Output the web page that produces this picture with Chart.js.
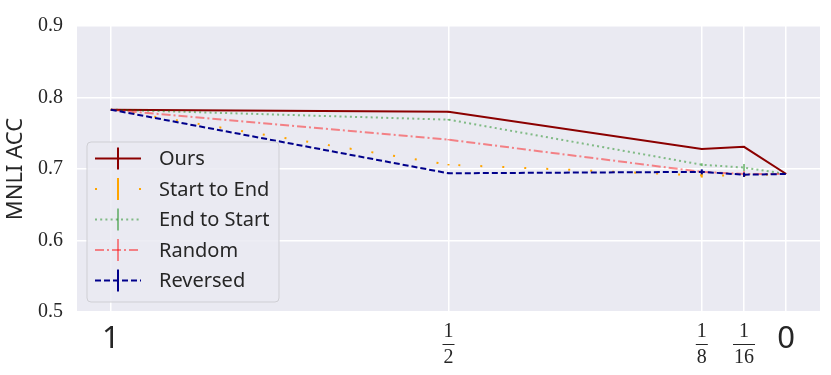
<!DOCTYPE html>
<html>
<head>
<meta charset="utf-8">
<script src="https://cdn.jsdelivr.net/npm/chart.js@4.4.1/dist/chart.umd.min.js"></script>
<style>
  html, body { margin: 0; padding: 0; background: #ffffff; }
  #wrap { width: 831px; height: 375px; }
</style>
</head>
<body>
<div id="wrap"><canvas id="chart" width="831" height="375"></canvas></div>
<script>
// data
const xValues = [1, 0.5, 0.125, 0.0625, 0];
const xTickLabels = ['1', '1/2', '1/8', '1/16', '0'];
const yTicks = [0.5, 0.6, 0.7, 0.8, 0.9];

const ours       = [0.783, 0.780, 0.728, 0.731, 0.693];
const startToEnd = [0.783, 0.706, 0.691, 0.691, 0.693];
const endToStart = [0.783, 0.769, 0.706, 0.702, 0.693];
const randomAcc  = [0.783, 0.741, 0.696, 0.693, 0.693];
const reversed   = [0.783, 0.694, 0.696, 0.692, 0.693];

const oursErr       = [0, 0.001, 0.001, 0.001, 0];
const startToEndErr = [0, 0.001, 0.003, 0.002, 0];
const endToStartErr = [0, 0.001, 0.002, 0.005, 0];
const randomErr     = [0, 0.001, 0.002, 0.004, 0];
const reversedErr   = [0, 0.001, 0.0035, 0.003, 0];

const seriesNames = ['Ours', 'Start to End', 'End to Start', 'Random', 'Reversed'];

(function () {
  'use strict';

  const TEXT = '#262626';
  const SANS = '"Noto Sans", "DejaVu Sans", sans-serif';
  const SERIF = '"Liberation Serif", "DejaVu Serif", serif';

  function pts(ys) {
    return xValues.map((x, i) => ({ x: x, y: ys[i] }));
  }

  const series = [
    { label: seriesNames[0], ys: ours,       err: oursErr,       color: '#8B0000',             dash: [],            order: 4 },
    { label: seriesNames[1], ys: startToEnd, err: startToEndErr, color: '#FFA500',             dash: [2, 20],       order: 3 },
    { label: seriesNames[2], ys: endToStart, err: endToStartErr, color: 'rgba(0,128,0,0.45)',  dash: [2, 3.2],      order: 2 },
    { label: seriesNames[3], ys: randomAcc,  err: randomErr,     color: 'rgba(255,0,0,0.45)',  dash: [9, 3, 2, 3],  order: 1 },
    { label: seriesNames[4], ys: reversed,   err: reversedErr,   color: '#00008B',             dash: [6, 3],        order: 0 }
  ];

  const datasets = series.map(s => ({
    label: s.label,
    data: pts(s.ys),
    errors: s.err,
    borderColor: s.color,
    backgroundColor: s.color,
    borderDash: s.dash,
    borderWidth: 2,
    pointRadius: 0,
    tension: 0,
    order: s.order
  }));

  // grey plot background
  const plotBackground = {
    id: 'plotBackground',
    beforeDraw(chart) {
      const a = chart.chartArea;
      const ctx = chart.ctx;
      ctx.save();
      ctx.fillStyle = '#EAEAF2';
      ctx.fillRect(a.left, a.top, a.right - a.left, a.bottom - a.top);
      ctx.restore();
    }
  };

  // vertical error bars, no caps
  const errorBars = {
    id: 'errorBars',
    afterDatasetsDraw(chart) {
      const ctx = chart.ctx;
      const xs = chart.scales.x, ys = chart.scales.y;
      ctx.save();
      chart.data.datasets.forEach(ds => {
        ctx.strokeStyle = ds.borderColor;
        ctx.lineWidth = 2;
        ctx.setLineDash([]);
        ds.data.forEach((p, i) => {
          const e = ds.errors[i];
          if (!e) return;
          const px = xs.getPixelForValue(p.x);
          ctx.beginPath();
          ctx.moveTo(px, ys.getPixelForValue(p.y - e));
          ctx.lineTo(px, ys.getPixelForValue(p.y + e));
          ctx.stroke();
        });
      });
      ctx.restore();
    }
  };

  // x tick labels: plain numbers and stacked fractions
  const xLabels = {
    id: 'xLabels',
    afterDraw(chart) {
      const ctx = chart.ctx;
      const xs = chart.scales.x;
      ctx.save();
      ctx.fillStyle = TEXT;
      ctx.textAlign = 'center';
      ctx.textBaseline = 'middle';
      xValues.forEach((v, i) => {
        const label = xTickLabels[i];
        const px = xs.getPixelForValue(v);
        if (label.indexOf('/') < 0) {
          ctx.font = '31px ' + SANS;
          ctx.fillText(label, px, 339);
        } else {
          const parts = label.split('/');
          ctx.font = '20px ' + SERIF;
          ctx.fillText(parts[0], px, 332);
          ctx.fillText(parts[1], px, 358);
          const w = Math.max(ctx.measureText(parts[0]).width, ctx.measureText(parts[1]).width) + 2;
          ctx.fillRect(px - w / 2, 344, w, 1);
        }
      });
      ctx.restore();
    }
  };

  // legend box drawn like the matplotlib one
  const legendBox = {
    id: 'legendBox',
    afterDraw(chart) {
      const ctx = chart.ctx;
      const bx = 87, by = 142, bw = 192, bh = 160, r = 4;
      ctx.save();
      ctx.beginPath();
      ctx.moveTo(bx + r, by);
      ctx.arcTo(bx + bw, by, bx + bw, by + bh, r);
      ctx.arcTo(bx + bw, by + bh, bx, by + bh, r);
      ctx.arcTo(bx, by + bh, bx, by, r);
      ctx.arcTo(bx, by, bx + bw, by, r);
      ctx.closePath();
      ctx.fillStyle = 'rgba(234,234,242,0.85)';
      ctx.fill();
      ctx.strokeStyle = '#cfcfd4';
      ctx.lineWidth = 1;
      ctx.stroke();

      series.forEach((s, i) => {
        const y = 158.5 + i * 30.5;
        ctx.strokeStyle = s.color;
        ctx.lineWidth = 2;
        ctx.setLineDash(s.dash);
        ctx.beginPath();
        ctx.moveTo(95, y);
        ctx.lineTo(141, y);
        ctx.stroke();
        ctx.setLineDash([]);
        ctx.beginPath();
        ctx.moveTo(118, y - 11);
        ctx.lineTo(118, y + 11);
        ctx.stroke();

        ctx.fillStyle = TEXT;
        ctx.font = '20px ' + SANS;
        ctx.textAlign = 'left';
        ctx.textBaseline = 'middle';
        ctx.fillText(s.label, 159, y + 1);
      });
      ctx.restore();
    }
  };

  new Chart(document.getElementById('chart').getContext('2d'), {
    type: 'line',
    data: { datasets: datasets },
    options: {
      responsive: false,
      animation: false,
      layout: { padding: { top: 18, right: 11, bottom: 0, left: 0 } },
      plugins: {
        legend: { display: false },
        tooltip: { enabled: false }
      },
      scales: {
        x: {
          type: 'linear',
          reverse: true,
          min: -0.05,
          max: 1.05,
          afterBuildTicks: scale => { scale.ticks = xValues.map(v => ({ value: v })); },
          afterFit: scale => { scale.height = 63; },
          ticks: { display: false },
          grid: { color: '#ffffff', lineWidth: 1.5, drawTicks: false },
          border: { display: false }
        },
        y: {
          min: 0.5,
          max: 0.9,
          afterBuildTicks: scale => { scale.ticks = yTicks.map(v => ({ value: v })); },
          afterFit: scale => { scale.width = 77; },
          ticks: {
            color: TEXT,
            padding: 14,
            font: { family: SERIF, size: 20 },
            callback: v => v.toFixed(1)
          },
          title: {
            display: true,
            text: 'MNLI ACC',
            color: TEXT,
            padding: { top: 3, bottom: 0 },
            font: { family: SANS, size: 22 }
          },
          grid: { color: '#ffffff', lineWidth: 1.5, drawTicks: false },
          border: { display: false }
        }
      }
    },
    plugins: [plotBackground, errorBars, xLabels, legendBox]
  });
})();
</script>
</body>
</html>
